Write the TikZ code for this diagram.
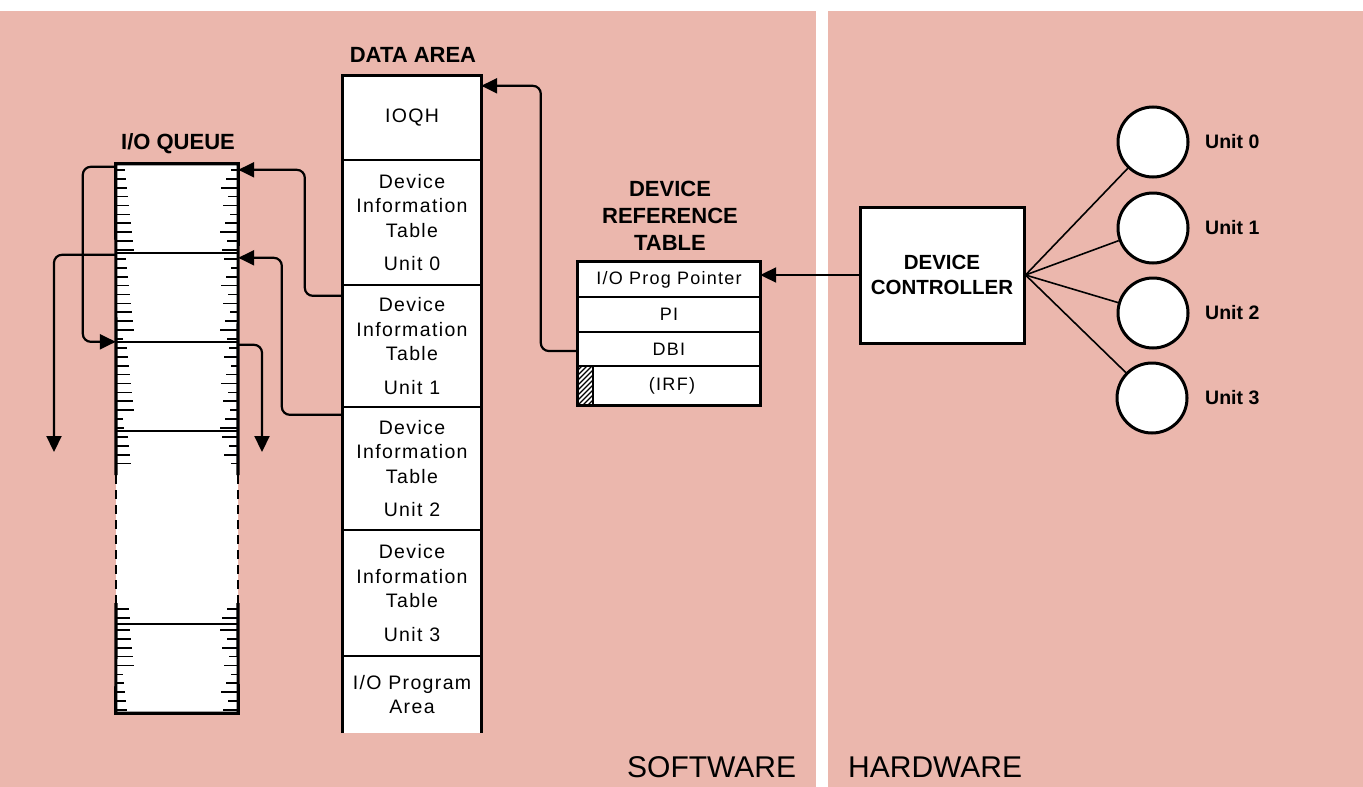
\documentclass[tikz,border=0pt]{standalone}
\usepackage{fontspec}
\setmainfont{Liberation Sans}
\newfontfamily\bodyfont[LetterSpace=7]{Liberation Sans}
\usetikzlibrary{arrows.meta,calc}
\definecolor{bgpink}{RGB}{235,183,173}
\tikzset{
  frame/.style={line width=3.2pt},
  divline/.style={line width=1.8pt},
  conn/.style={line width=2.2pt, rounded corners=8pt},
  arr/.style={-{Triangle[length=16pt,width=15pt]}},
  tickline/.style={line width=1.7pt},
  dcell/.style={fill=white, draw=none, minimum width=138, inner sep=0pt, align=center,
    font=\bodyfont\fontsize{19.5}{24.5}\selectfont},
  qcell/.style={fill=white, draw=none, minimum width=122, inner sep=0pt},
  rcell/.style={fill=white, draw=none, minimum width=182, inner sep=0pt, align=center,
    font=\bodyfont\fontsize{18}{22}\selectfont},
  title/.style={font=\bfseries\fontsize{22}{27}\selectfont, align=center, inner sep=0pt},
  unitc/.style={circle, draw, fill=white, line width=3pt, minimum size=70, inner sep=0pt},
  unitl/.style={anchor=west, font=\bfseries\fontsize{19.5}{23}\selectfont, inner sep=0pt},
  side/.style={anchor=base west, font=\fontsize{30}{36}\selectfont, inner sep=0pt}
}
\begin{document}
\begin{tikzpicture}[x=1pt,y=-1pt]
\useasboundingbox (0,0) rectangle (1363,787);
% background
\fill[white] (0,0) rectangle (1363,787);
\fill[bgpink] (0,11) rectangle (816,787);
\fill[bgpink] (828,11) rectangle (1363,787);

% ---------- I/O QUEUE ----------
\node[title] (qtitle) at (178,144) {I/O QUEUE};
\node[qcell, minimum height=89] (q1) at (177,208.5) {};
\node[qcell, minimum height=89] (q2) at (177,297.5) {};
\node[qcell, minimum height=89] (q3) at (177,386.5) {};
\node[qcell, minimum height=193] (q4) at (177,527.5) {};
\node[qcell, minimum height=89] (q5) at (177,668.5) {};
\foreach \ta/\tb [count=\c] in {164/253,253/342,342/431,431/473,603/624,624/713} {
  \foreach \k in {1,...,10} {
    \pgfmathsetmacro\yy{\ta+8.9*\k-3}
    \pgfmathtruncatemacro\ok{(\yy<\tb-3) ? 1 : 0}
    \ifnum\ok=1
      \pgfmathsetmacro\La{7+mod(\k*37+\c*13,12)}
      \pgfmathsetmacro\Lb{7+mod(\k*53+\c*7,12)}
      \draw[tickline] (116,\yy) -- ++(\La,0);
      \draw[tickline] (238,\yy) -- ++(-\Lb,0);
    \fi
  }
}
\foreach \n in {q2,q3,q4,q5} \draw[divline] (\n.north west) -- (\n.north east);
\draw[frame] (116,475) -- (q1.north west) -- (q1.north east) -- (238,475);
\draw[frame] (116,603) -- (q5.south west) -- (q5.south east) -- (238,603);
\draw[divline, dash pattern=on 9pt off 6pt] (116,475) -- (116,603);
\draw[divline, dash pattern=on 9pt off 6pt] (238,475) -- (238,603);

% ---------- DATA AREA ----------
\node[title] (dtitle) at (413,55) {DATA AREA};
\node[dcell, minimum height=84] (ioqh) at (412,118) {IOQH};
\node[dcell, minimum height=125] (d0) at (412,222.5) {Device\\Information\\Table\\[9pt]Unit 0};
\node[dcell, minimum height=122] (d1) at (412,346) {Device\\Information\\Table\\[9pt]Unit 1};
\node[dcell, minimum height=123] (d2) at (412,468.5) {Device\\Information\\Table\\[9pt]Unit 2};
\node[dcell, minimum height=126] (d3) at (412,593) {Device\\Information\\Table\\[9pt]Unit 3};
\node[dcell, minimum height=77] (prog) at (412,694.5) {I/O Program\\Area};
\foreach \n in {d0,d1,d2,d3,prog} \draw[divline] (\n.north west) -- (\n.north east);
\draw[frame] (prog.south west) -- (ioqh.north west) -- (ioqh.north east) -- (prog.south east);

% ---------- DEVICE REFERENCE TABLE ----------
\node[title] (rtitle) at (670,216) {DEVICE\\REFERENCE\\TABLE};
\node[rcell, minimum height=35] (ptr) at (669,279.5) {I/O Prog Pointer};
\node[rcell, minimum height=35] (pi) at (669,314.5) {PI};
\node[rcell, minimum height=34] (dbi) at (669,349) {DBI};
\node[rcell, minimum height=39] (irf) at (669,385.5) {\hspace{6pt}(IRF)};
\begin{scope}
  \clip (irf.north west) rectangle ([xshift=15pt]irf.south west);
  \foreach \i in {-60,-55,...,20}
    \draw[line width=1.1pt] ([xshift=\i pt]irf.south west) -- ++(45,-45);
\end{scope}
\draw[divline] ([xshift=15pt]irf.north west) -- ([xshift=15pt]irf.south west);
\foreach \n in {pi,dbi,irf} \draw[divline] (\n.north west) -- (\n.north east);
\draw[frame] (ptr.north west) rectangle (irf.south east);

% ---------- HARDWARE ----------
\node[draw, fill=white, line width=3pt, minimum width=164, minimum height=136, inner sep=0pt,
  align=center, font=\bfseries\fontsize{20.5}{25}\selectfont] (dc) at (942,275) {DEVICE\\CONTROLLER};
\node[unitc] (u0) at (1153,142) {};
\node[unitc] (u1) at (1153,228) {};
\node[unitc] (u2) at (1153,313) {};
\node[unitc] (u3) at (1152,398) {};
\node[unitl] (l0) at (1205,142) {Unit 0};
\node[unitl] (l1) at (1205,228) {Unit 1};
\node[unitl] (l2) at (1205,313) {Unit 2};
\node[unitl] (l3) at (1205,398) {Unit 3};
\foreach \u in {u0,u1,u2,u3} \draw[line width=1.6pt] (dc.east) -- (\u);

% ---------- connectors ----------
\coordinate (e1) at (54,452);
\coordinate (e2) at (262,452);
\draw[conn,arr] ([yshift=-3pt]q1.north west) -- ++(-33,0) |- (q3.north west);
\draw[conn,arr] ([yshift=-2pt]q2.north west) -| (e1);
\draw[conn,arr] ([yshift=-3pt]q3.north east) -| (e2);
\draw[conn,arr] ([yshift=-11pt]d1.north west) -- ++(-38,0) |- ([yshift=-6pt]q1.north east);
\draw[conn,arr] ([yshift=-8pt]d2.north west) -- ++(-61,0) |- ([yshift=-5pt]q2.north east);
\draw[conn,arr] ([yshift=-2pt]dbi.west) -- ++(-37,0) |- ([yshift=-10pt]ioqh.north east);
\draw[line width=2pt,arr] (dc.west) -- (dc.west -| ptr.east);

% ---------- panel labels ----------
\node[side] (sw) at (627,777) {SOFTWARE};
\node[side] (hw) at (848,777) {HARDWARE};
\end{tikzpicture}
\end{document}
